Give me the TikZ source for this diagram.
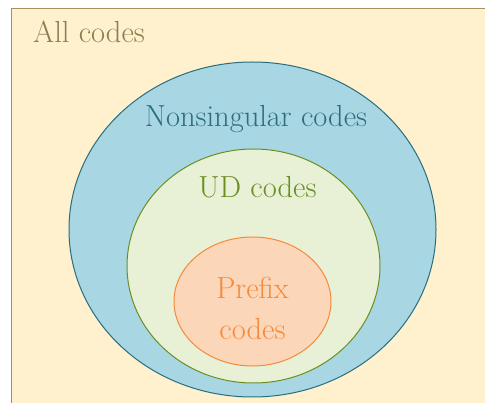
\documentclass[tikz,border=0pt]{standalone}
\usepackage{fontspec}
\usepackage{xcolor}
\usetikzlibrary{shapes.geometric, positioning}

\definecolor{allfill}{RGB}{255,240,206}
\definecolor{allline}{RGB}{168,145,95}
\definecolor{alltext}{RGB}{143,125,79}
\definecolor{nsfill}{RGB}{168,215,227}
\definecolor{nsline}{RGB}{40,110,128}
\definecolor{nstext}{RGB}{45,110,126}
\definecolor{udfill}{RGB}{232,240,214}
\definecolor{udline}{RGB}{107,142,35}
\definecolor{pffill}{RGB}{252,214,185}
\definecolor{pfline}{RGB}{245,138,58}

\begin{document}
\begin{tikzpicture}[
    x=1pt, y=-1pt,
    codeset/.style={ellipse, inner sep=0pt, line width=1pt},
    codetext/.style={inner sep=0pt, font=\fontsize{30.5}{41}\selectfont}
]
\clip (0,0) rectangle (485,403);

\node[rectangle, draw=allline, fill=allfill, line width=1.3pt, minimum width=490pt, minimum height=410pt, anchor=north west] (all) at (11,8) {};
\node[codeset, draw=nsline, fill=nsfill, minimum width=367pt, minimum height=335pt] (nonsing) at (252.5,229.5) {};
\node[codeset, draw=udline, fill=udfill, minimum width=253pt, minimum height=234pt] (ud) at (253.5,266) {};
\node[codeset, draw=pfline, fill=pffill, minimum width=157pt, minimum height=129pt] (prefix) at (252.5,301.5) {};

% set names
\node[codetext, text=alltext, anchor=base west] (alllbl) at (33,43) {All codes};
\node[codetext, text=nstext, anchor=base] (nonsinglbl) at (256,127) {Nonsingular codes};
\node[codetext, text=udline, anchor=base] (udlbl) at (257.5,198) {UD codes};
\node[codetext, text=pfline, align=center] (prefixlbl) at ([yshift=-7.4pt]prefix.center) {Prefix\\codes};

\end{tikzpicture}
\end{document}
